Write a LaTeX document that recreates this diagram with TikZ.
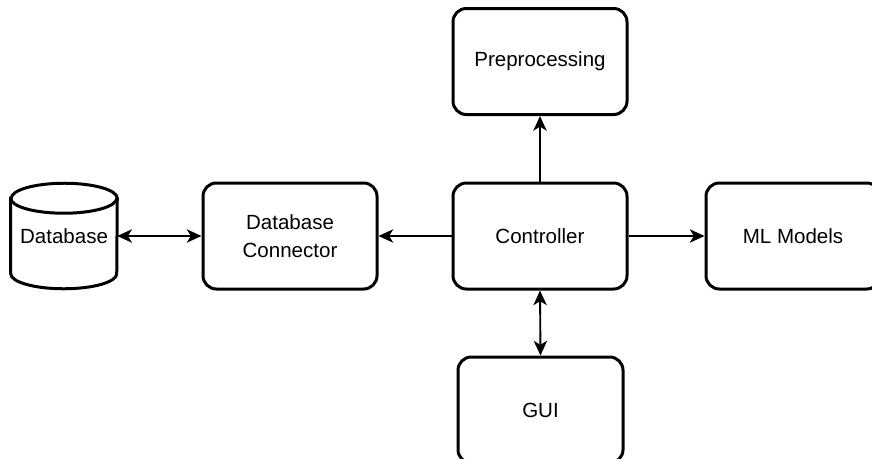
\documentclass[tikz,border=0pt]{standalone}
\usepackage{fontspec}
\setmainfont{Liberation Sans}
\usetikzlibrary{arrows.meta}

\begin{document}
\begin{tikzpicture}[x=0.75pt, y=-0.75pt,
    labelfont/.style={font=\fontsize{15.4}{20.5}\selectfont},
    block/.style={draw, line width=2.25pt, rounded corners=10pt, minimum width=130.5pt,
        minimum height=79.5pt, inner sep=0pt, align=center, labelfont},
    dbshape/.style={minimum width=79.5pt, minimum height=78.75pt, inner sep=0pt, labelfont},
    link/.style={line width=1.4pt, -{Stealth[length=11pt, width=10pt, inset=3pt]}},
    twoway/.style={line width=1.4pt, {Stealth[length=11pt, width=10pt, inset=3pt]}-{Stealth[length=11pt, width=10pt, inset=3pt]}}]
    \path[use as bounding box, clip] (0,0) rectangle (872,458);

    % blocks
    \node[block] (pre) at (540,61.5) {Preprocessing};
    \node[block] (ctrl) at (540,236) {Controller};
    \node[block] (conn) at (290,236) {Database\\Connector};
    \node[block] (ml) at (793,236) {ML Models};
    \node[block, minimum width=123.75pt] (gui) at (540.5,410) {GUI};

    % database cylinder
    \node[dbshape] (db) at (64,236) {Database};
    \draw[line width=2.25pt] ([yshift=-11.25pt]db.north west) -- ([yshift=11.25pt]db.south west)
        arc[start angle=180, end angle=360, x radius=39.75pt, y radius=11.25pt]
        -- ([yshift=-11.25pt]db.north east)
        arc[start angle=0, end angle=180, x radius=39.75pt, y radius=11.25pt] -- cycle;
    \draw[line width=2.25pt] ([yshift=-11.25pt]db.north west)
        arc[start angle=180, end angle=360, x radius=39.75pt, y radius=11.25pt];

    % connectors
    \draw[twoway] (db.east) -- (conn.west);
    \draw[link] (ctrl.west) -- (conn.east);
    \draw[link] (ctrl.east) -- (ml.west);
    \draw[link] (ctrl.north) -- (pre.south);
    \draw[twoway] (ctrl.south) -- (gui.north);
\end{tikzpicture}
\end{document}
